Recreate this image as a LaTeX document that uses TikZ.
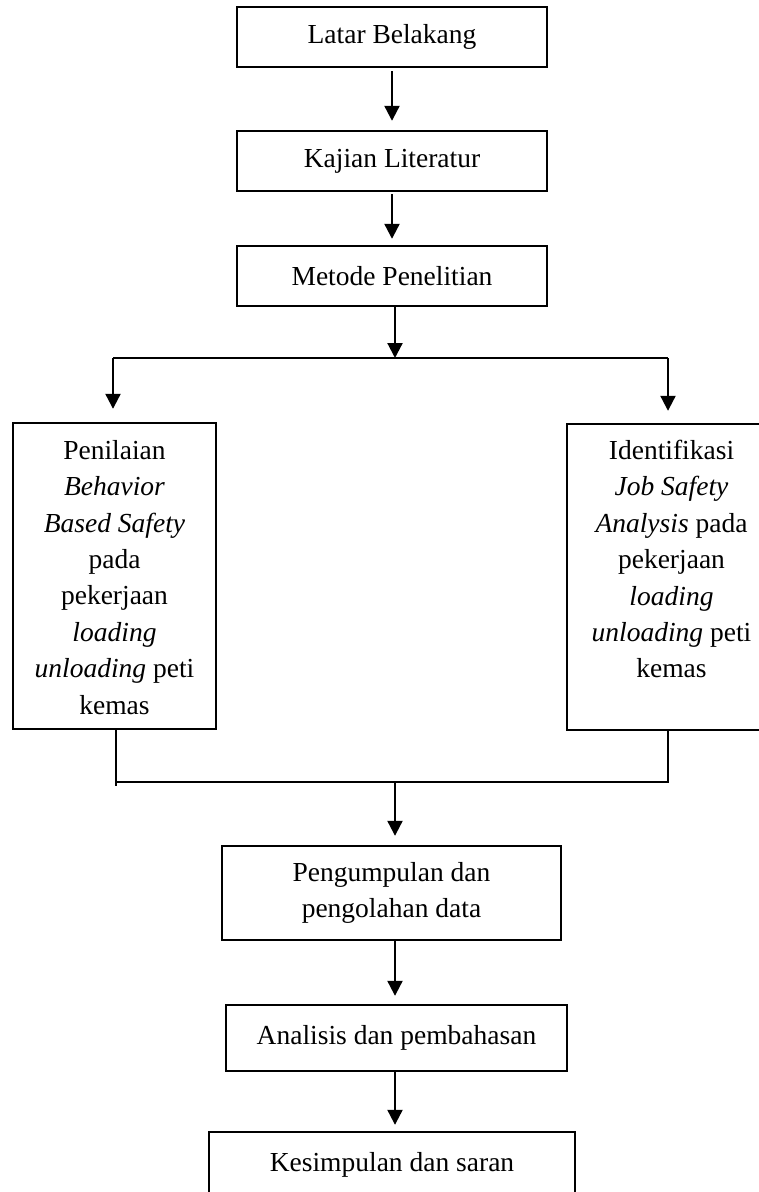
\documentclass[tikz,border=0pt]{standalone}
\usepackage{fontspec}
\setmainfont{Liberation Serif}
\usepackage{tikz}
\usetikzlibrary{arrows.meta, positioning}

\begin{document}
\begin{tikzpicture}[x=0.5pt, y=-0.5pt,
        font=\fontsize{13.75}{18.2}\selectfont,
        kotak/.style={draw, line width=1.2pt, align=center, inner sep=0pt},
        teks/.style={anchor=north, align=center, inner sep=0pt},
        garis/.style={line width=1.1pt},
        panah/.style={line width=1.1pt, -{Triangle[width=7.5pt, length=7.5pt]}}]
        % 画布边界
        \useasboundingbox (0,0) rectangle (759,1192);

        % 上方三个步骤
        \node[kotak, minimum width=155pt, minimum height=30pt] (latar) at (392,37) {Latar Belakang};
        \node[kotak, minimum width=155pt, minimum height=30pt] (kajian) at (392,161) {Kajian Literatur};
        \node[kotak, minimum width=155pt, minimum height=30pt] (metode) at (392,276) {Metode Penelitian};
        \draw[panah] ([yshift=-1.5pt]latar.south) -- ([yshift=4.5pt]kajian.north);
        \draw[panah] ([yshift=-1pt]kajian.south) -- ([yshift=3pt]metode.north);

        % 分支
        \coordinate (cabang) at (395,358);
        \coordinate (kiri) at (113,358);
        \coordinate (kanan) at (668,358);
        \draw[panah] (metode.south -| cabang) -- (cabang);
        \draw[garis] (kiri) -- (kanan);

        % 左右两个方框
        \node[kotak, minimum width=101.5pt, minimum height=153pt] (nilai) at (114.5,576) {};
        \node[kotak, minimum width=104.5pt, minimum height=153pt] (jsa) at (671.5,577) {};
        \node[teks] (teksnilai) at ([yshift=-9pt]nilai.north) {Penilaian\\ \textit{Behavior}\\ \textit{Based Safety}\\ pada\\ pekerjaan\\ \textit{loading}\\ \textit{unloading} peti\\ kemas};
        \node[teks] (teksjsa) at ([yshift=-8.5pt]jsa.north) {Identifikasi\\ \textit{Job Safety}\\ \textit{Analysis} pada\\ pekerjaan\\ \textit{loading}\\ \textit{unloading} peti\\ kemas};
        \draw[panah] (kiri) -- ([yshift=6.5pt]kiri |- nilai.north);
        \draw[panah] (kanan) -- ([yshift=6pt]kanan |- jsa.north);

        % 合并
        \coordinate (gabungkiri) at (116,782);
        \coordinate (gabungkanan) at (668,782);
        \coordinate (gabung) at (395,782);
        \draw[garis] (nilai.south -| gabungkiri) -- ([yshift=-2pt]gabungkiri);
        \draw[garis] (gabungkiri) -- (gabungkanan) -- (jsa.south -| gabungkanan);

        % 下方三个步骤
        \node[kotak, minimum width=169.5pt, minimum height=47pt] (kumpul) at (391.5,893) {Pengumpulan dan\\ pengolahan data};
        \node[kotak, minimum width=170.5pt, minimum height=33pt] (analisis) at (396.5,1038) {Analisis dan pembahasan};
        \node[kotak, minimum width=183pt, minimum height=33pt] (simpulan) at (392,1165) {Kesimpulan dan saran};
        \draw[panah] (gabung) -- ([yshift=4.5pt]gabung |- kumpul.north);
        \draw[panah] (kumpul.south -| gabung) -- ([yshift=4pt]analisis.north -| gabung);
        \draw[panah] (analisis.south -| gabung) -- ([yshift=3pt]simpulan.north -| gabung);
\end{tikzpicture}
\end{document}
